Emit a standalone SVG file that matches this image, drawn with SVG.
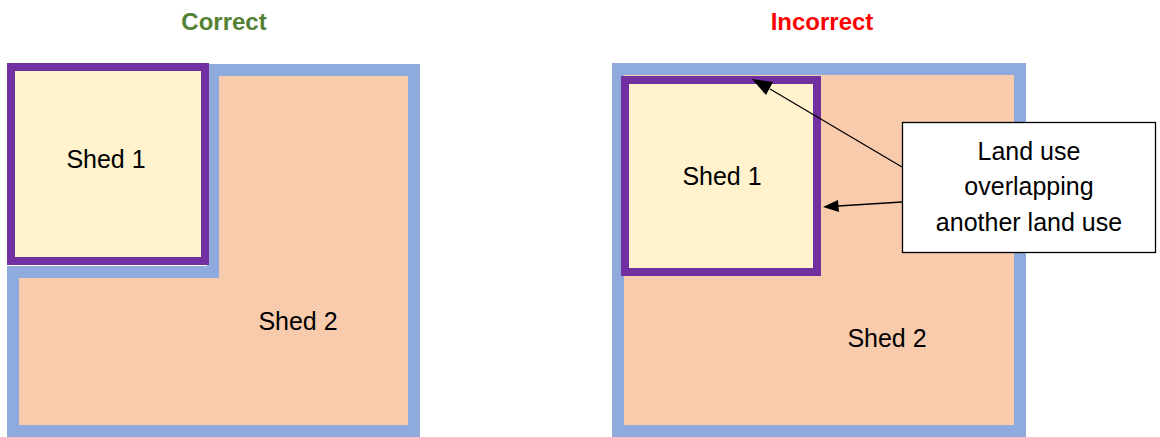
<svg xmlns="http://www.w3.org/2000/svg" width="1160" height="437" viewBox="0 0 1160 437">
<style>
.t{font-family:"Liberation Sans",Arial,sans-serif;font-size:25px;fill:#000;text-anchor:middle}
.h{font-family:"Liberation Sans",Arial,sans-serif;font-size:24px;font-weight:bold;text-anchor:middle}
.shed2{fill:#F8CBAD;stroke:#8FAADC;stroke-width:12}
.shed1{fill:#FFF2CC;stroke:#7030A0;stroke-width:8}
.line{stroke:#000;stroke-width:1.3;fill:none}
.head{fill:#000}
</style>
<rect width="1160" height="437" fill="#fff"/>
<text id="title-correct" class="h" x="224" y="30" fill="#548235">Correct</text>
<text id="title-incorrect" class="h" x="822" y="30" fill="#FF0000">Incorrect</text>
<g id="left-shed2">
<polygon class="shed2" points="213,70 414,70 414,431 13,431 13,272 213,272"/>
<text class="t" x="298" y="330">Shed 2</text>
</g>
<g id="left-shed1">
<rect class="shed1" x="11" y="67" width="194" height="194"/>
<text class="t" x="106" y="168">Shed 1</text>
</g>
<g id="right-shed2">
<rect class="shed2" x="618" y="69" width="402" height="362"/>
<text class="t" x="887" y="347">Shed 2</text>
</g>
<g id="right-shed1">
<rect class="shed1" x="625" y="80" width="192" height="192"/>
<text class="t" x="722" y="185">Shed 1</text>
</g>
<g id="callout">
<rect x="902.5" y="122.5" width="253" height="130" fill="#fff" stroke="#000" stroke-width="1.3"/>
<text class="t" x="1029" y="160">Land use</text>
<text class="t" x="1029" y="195">overlapping</text>
<text class="t" x="1029" y="231">another land use</text>
</g>
<g id="connectors">
<path class="line" d="M902,167 L770,89"/>
<path class="line" d="M902,202 L838,206"/>
<polygon class="head" points="752,79 773,82 766,95"/>
<polygon class="head" points="823,207 838,200 839,212"/>
</g>
</svg>
